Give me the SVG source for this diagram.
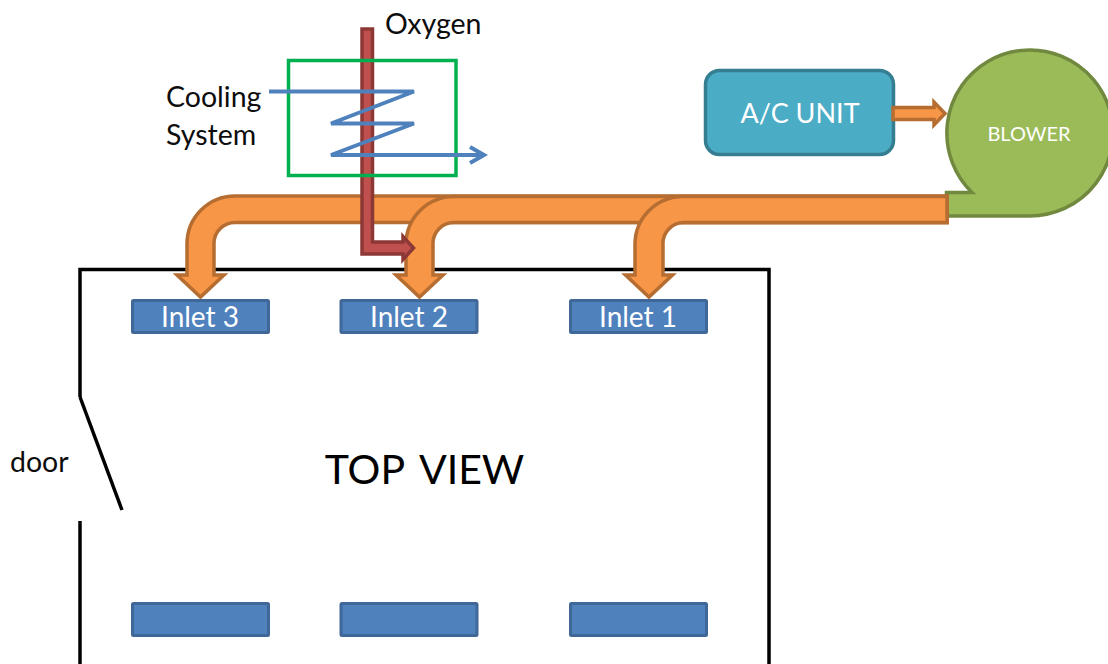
<svg xmlns="http://www.w3.org/2000/svg" width="1108" height="664" viewBox="0 0 1108 664">
<style>
text{font-family:"Lato","Open Sans","Liberation Sans",sans-serif}
.blk{fill:#0d0d0d;font-size:28.500px}
.wht{fill:#fff;text-anchor:middle}
.inlet{fill:#4f81bd;stroke:#3f6797;stroke-width:3}
.wall{fill:none;stroke:#000;stroke-width:3.500}
.orange{fill:#f79646;stroke:#b66d31;stroke-width:3.500;stroke-linejoin:miter}
.red{fill:#c0504d;stroke:#8c3836;stroke-width:3.500}
.blue{fill:none;stroke:#4f81bd;stroke-width:4}
</style>
<rect width="1108" height="664" fill="#fff"/>
<g id="room">
<path class="wall" d="M80 397V269.500H769V664"/>
<path class="wall" d="M80 397L122 510"/>
<path class="wall" d="M80 521V664"/>
</g>
<g id="inlet-3"><rect class="inlet" x="132.500" y="300.500" width="136" height="32" rx="1"/><text class="wht" x="200" y="326.500" font-size="28">Inlet 3</text></g>
<g id="inlet-2"><rect class="inlet" x="341" y="300.500" width="136" height="32" rx="1"/><text class="wht" x="409" y="326.500" font-size="28">Inlet 2</text></g>
<g id="inlet-1"><rect class="inlet" x="570.500" y="300.500" width="136" height="32" rx="1"/><text class="wht" x="638" y="326.500" font-size="28">Inlet 1</text></g>
<g id="outlet-3"><rect class="inlet" x="132.500" y="603.500" width="136" height="32" rx="1"/></g>
<g id="outlet-2"><rect class="inlet" x="341" y="603.500" width="136" height="32" rx="1"/></g>
<g id="outlet-1"><rect class="inlet" x="570.500" y="603.500" width="136" height="32" rx="1"/></g>
<g id="blower">
<path d="M946.500 216H1029.500A83 83 0 1 0 972 192.500H946.500Z" fill="#9bbb59" stroke="#71893f" stroke-width="3.500"/>
<text class="wht" x="1029" y="141" font-size="20">BLOWER</text>
</g>
<g id="ac-unit">
<rect x="705.500" y="70.500" width="188" height="84" rx="14" fill="#4bacc6" stroke="#357d91" stroke-width="3.500"/>
<text class="wht" x="800" y="123" font-size="27">A/C UNIT</text>
</g>
<g id="connectors">
<path class="orange" d="M893 107.500H934V102L945 113.500L934 125V119.500H893Z"/>
<path class="orange" d="M947 196H235A48 48 0 0 0 187 244V275H177L200.500 297L224 275H214V244A21 21 0 0 1 235 222.500H947Z"/>
<path class="orange" d="M947 196.500H454A48 48 0 0 0 406 244.500V275H396L419.500 297L443 275H433V244.500A21 21 0 0 1 454 222.500H947Z"/>
<path class="orange" d="M947 196.500H683A48 48 0 0 0 635 244.500V275H625.500L649 297L672.500 275H663V244.500A21 21 0 0 1 684 222.500H947Z"/>
<path class="red" d="M362 29H372.500V242H403V236.500L413.500 248L403 259.500V254H362Z"/>
<rect x="288.500" y="60.500" width="167.500" height="115" fill="none" stroke="#00b050" stroke-width="3.500"/>
<path class="blue" d="M269 91.500H414L331 123.500H414L331 155H483"/>
<path class="blue" d="M470 147L484 155L470 163"/>
</g>
<text class="blk" x="385" y="33.500">Oxygen</text>
<text class="blk" x="166" y="106.500">Cooling</text>
<text class="blk" x="166" y="144.500">System</text>
<text class="blk" x="10" y="472">door</text>
<text x="424.500" y="484" text-anchor="middle" font-size="41" word-spacing="6" fill="#000">TOP VIEW</text>
</svg>
